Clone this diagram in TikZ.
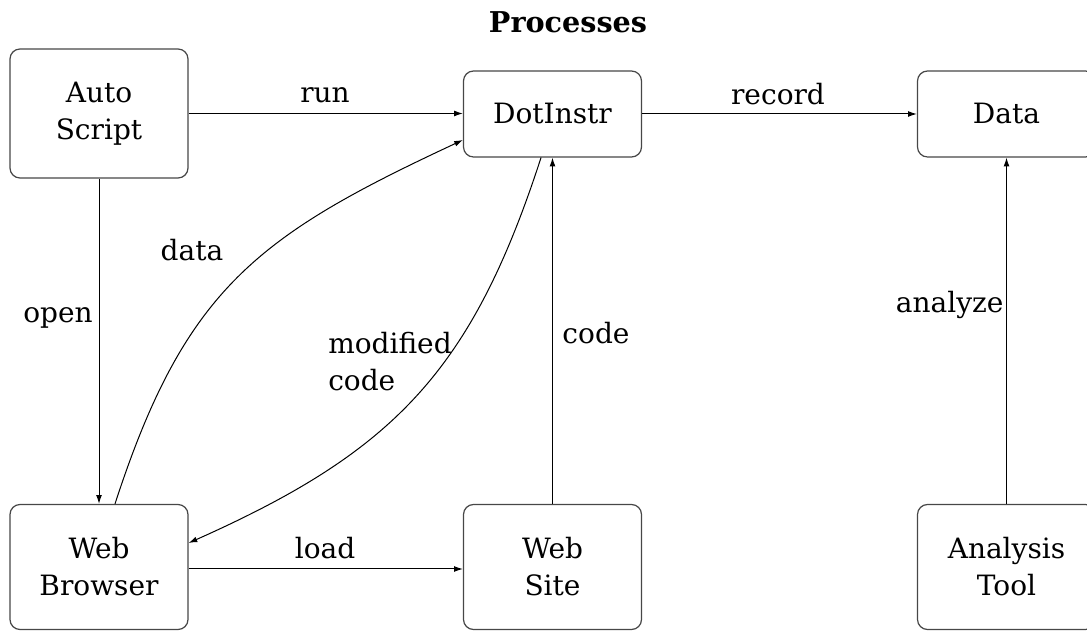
\documentclass[tikz,border=0pt]{standalone}
\usepackage{fontspec}
\setmainfont{DejaVu Serif}
\usetikzlibrary{arrows.meta}
\begin{document}
\begin{tikzpicture}[x=0.75pt,y=0.75pt,
  every node/.style={font=\fontsize{21}{27.75}\selectfont},
  proc/.style={draw=black!72, line width=0.9pt, rounded corners=7.5pt,
    align=center, inner sep=0pt, minimum width=133.5pt},
  tall/.style={proc, minimum height=96.75pt},
  short/.style={proc, minimum height=64.5pt},
  low/.style={proc, minimum height=93.75pt},
  flow/.style={draw=black, line width=0.75pt,
    -{Latex[length=6.5pt,width=4.3pt]}},
  lbl/.style={inner sep=1pt}]
  \useasboundingbox (0,0) rectangle (1087,631);
  \clip (0,0) rectangle (1087,631);

  % title
  \node[font=\fontsize{21.5}{25}\selectfont\bfseries] (title) at (568,609) {Processes};

  % process boxes
  \node[tall]  (as) at (99,517.5)   {Auto\\Script};
  \node[short] (di) at (552.5,517)  {DotInstr};
  \node[short] (da) at (1006.5,517) {Data};
  \node[low]   (wb) at (99,64)      {Web\\Browser};
  \node[low]   (ws) at (552.5,64)   {Web\\Site};
  \node[low]   (at) at (1006.5,64)  {Analysis\\Tool};

  % straight connectors
  \draw[flow] (as.east) -- (as.east -| di.west);
  \draw[flow] (di.east) -- (da.west);
  \draw[flow] (as.south) -- (wb.north);
  \draw[flow] ([yshift=-1.5pt]wb.east) -- ([yshift=-1.5pt]wb.east -| ws.west);
  \draw[flow] (ws.north) -- (di.south);
  \draw[flow] (at.north) -- (da.south);

  % curved connectors
  \draw[flow] ([xshift=12pt]wb.north) to[out=72,in=205,looseness=1.15] ([yshift=-19.5pt]di.west);
  \draw[flow] ([xshift=-8.6pt]di.south) to[out=-108,in=24,looseness=1.1] ([yshift=18pt]wb.east);

  % connector labels
  \node[lbl] (lrun)    at (325,536)  {run};
  \node[lbl] (lrecord) at (778,537)  {record};
  \node[lbl] (lopen)   at (58,313)   {open};
  \node[lbl] (lload)   at (325,83)   {load};
  \node[lbl] (lcode)   at (596,298)  {code};
  \node[lbl,anchor=east] (lanalyze) at (1005,326) {analyze};
  \node[lbl] (ldata)   at (192,381)  {data};
  \node[lbl,align=left] (lmod) at (390,269) {modified\\code};
\end{tikzpicture}
\end{document}
